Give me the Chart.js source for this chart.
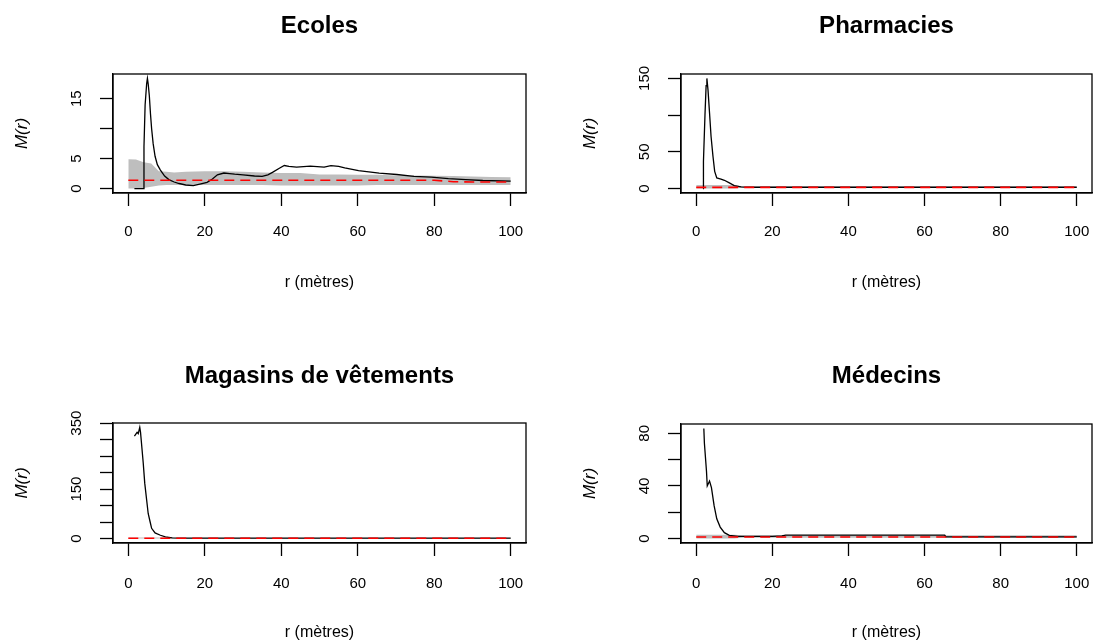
<!DOCTYPE html>
<html>
<head>
<meta charset="utf-8">
<script src="https://cdn.jsdelivr.net/npm/chart.js@4/dist/chart.umd.min.js"></script>
<style>
  body { margin: 0; background: #fff; width: 1096px; height: 643px; position: relative; overflow: hidden; }
  canvas { position: absolute; }
</style>
</head>
<body>
<canvas id="ecoles" width="548" height="321" style="left:0;top:0"></canvas>
<canvas id="pharmacies" width="548" height="321" style="left:548px;top:0"></canvas>
<canvas id="magasins" width="548" height="322" style="left:0;top:321px"></canvas>
<canvas id="medecins" width="548" height="322" style="left:548px;top:321px"></canvas>
<script>
const xTicks = [0, 20, 40, 60, 80, 100];

// Ecoles
const ecolesR = [1.6, 3.9, 4.1, 4.4, 4.8, 5.0, 5.2, 5.5, 5.8, 6.1, 6.5, 7.0, 7.6, 8.4, 9.5, 10.6, 12, 13.3, 15, 17, 19, 20.6, 22, 23.3, 25, 26.5, 27.8, 30, 33, 35, 36.5, 37.7, 39.5, 40.8, 42, 44, 47.6, 51.2, 53, 55, 56.6, 60.2, 65.6, 70.2, 74.7, 79.2, 83.7, 88.2, 92.7, 100];
const ecolesM = [0, 0, 7, 14, 17.5, 18.4, 17.5, 15.5, 12.5, 10, 7.5, 5.4, 4.0, 3.1, 2.1, 1.5, 1.1, 0.85, 0.6, 0.5, 0.8, 1.05, 1.6, 2.3, 2.6, 2.5, 2.4, 2.3, 2.1, 2.05, 2.3, 2.7, 3.4, 3.85, 3.7, 3.6, 3.75, 3.6, 3.85, 3.7, 3.45, 3.0, 2.6, 2.35, 2.05, 1.9, 1.65, 1.5, 1.35, 1.25];
const ecolesEnvR = [0, 2, 4, 6, 8, 10, 12, 15, 20, 25, 30, 35, 40, 45, 50, 55, 60, 65, 70, 75, 80, 85, 90, 95, 100];
const ecolesHi = [4.9, 4.85, 4.4, 4.2, 2.9, 2.8, 2.7, 2.8, 2.9, 2.9, 2.8, 2.7, 2.6, 2.6, 2.35, 2.35, 2.3, 2.3, 2.2, 2.2, 2.15, 2.1, 2.0, 1.95, 1.9];
const ecolesLo = [0, 0, 0.1, 0.3, 0.5, 0.6, 0.6, 0.6, 0.6, 0.6, 0.6, 0.6, 0.5, 0.5, 0.5, 0.5, 0.5, 0.6, 0.6, 0.6, 0.6, 0.6, 0.6, 0.6, 0.6];
const ecolesTheo = [1.4, 1.4, 1.4, 1.4, 1.4, 1.4, 1.4, 1.4, 1.4, 1.4, 1.4, 1.4, 1.4, 1.4, 1.4, 1.4, 1.4, 1.4, 1.4, 1.4, 1.4, 1.15, 1.1, 1.1, 1.1];
const ecolesYTicks = [0, 5, 10, 15];
const ecolesYLabels = ["0", "5", "", "15"];

// Pharmacies
const pharmaR = [1.8, 1.9, 2.3, 2.6, 2.8, 3.1, 3.5, 3.9, 4.4, 4.85, 5.4, 6.5, 7.4, 8.7, 10, 11.8, 14, 30, 50, 70, 100];
const pharmaM = [0, 37, 100, 140, 150, 134, 103, 71, 44, 23.5, 14.5, 13, 11.3, 7.7, 4.1, 2.3, 1.8, 1.8, 1.8, 1.8, 1.8];
const pharmaEnvR = [0, 5, 10, 12, 20, 40, 60, 80, 100];
const pharmaHi = [5, 5, 5, 3, 3, 3, 3, 3, 3];
const pharmaLo = [0, 0, 0, 1, 1, 1, 1, 1, 1];
const pharmaTheo = [1.6, 1.6, 1.6, 1.6, 1.6, 1.6, 1.6, 1.6, 1.6];
const pharmaYTicks = [0, 50, 100, 150];
const pharmaYLabels = ["0", "50", "", "150"];

// Magasins de vêtements
const magasinsR = [1.6, 2.3, 2.6, 3.0, 3.2, 3.4, 3.9, 4.3, 4.8, 5.2, 5.7, 6.1, 7.0, 8.4, 9.7, 11.5, 14, 30, 50, 70, 100];
const magasinsM = [311, 322, 318, 337, 322, 296, 230, 168, 117, 76, 51, 31, 17, 10, 5, 2, 1.5, 1.5, 1.5, 1.5, 1.5];
const magasinsEnvR = [0, 5, 10, 12, 20, 40, 60, 80, 100];
const magasinsHi = [3, 3, 3, 2, 2, 2, 2, 2, 2];
const magasinsLo = [0, 0, 0, 0.5, 0.5, 0.5, 0.5, 0.5, 0.5];
const magasinsTheo = [1, 1, 1, 1, 1, 1, 1, 1, 1];
const magasinsYTicks = [0, 50, 100, 150, 200, 250, 300, 350];
const magasinsYLabels = ["0", "", "", "150", "", "", "", "350"];

// Médecins
const medecinsR = [2.0, 2.15, 2.7, 2.9, 3.5, 4.0, 4.7, 5.4, 6.3, 7.4, 8.7, 11, 20, 22.5, 23.5, 40, 60, 65.3, 65.6, 80, 100];
const medecinsM = [83.75, 72.5, 51, 40, 43.75, 38.75, 25, 15, 8.75, 4.5, 2.5, 1.75, 1.75, 2.0, 2.6, 2.6, 2.6, 2.6, 1.3, 1.25, 1.25];
const medecinsEnvR = [0, 5, 10, 12, 20, 40, 60, 80, 100];
const medecinsHi = [3, 3, 3, 2.5, 2.5, 2.5, 2.5, 2.5, 2.5];
const medecinsLo = [0, 0, 0, 0.7, 0.7, 0.7, 0.7, 0.7, 0.7];
const medecinsTheo = [1.25, 1.25, 1.25, 1.25, 1.25, 1.25, 1.25, 1.25, 1.25];
const medecinsYTicks = [0, 20, 40, 60, 80];
const medecinsYLabels = ["0", "", "40", "", "80"];

const FONT = "'Liberation Sans', Arial, sans-serif";
const TICK_SIZE = 15;
const LAB_SIZE = 16;
const TITLE_SIZE = 24;

// where each panel's box and texts sit on the page
const panels = [
  { id: "ecoles", title: "Ecoles", r: ecolesR, m: ecolesM, envR: ecolesEnvR, hi: ecolesHi, lo: ecolesLo, theo: ecolesTheo, yTicks: ecolesYTicks, yLabels: ecolesYLabels,
    canvas: { l: 0, t: 0, w: 548, h: 321 }, area: { l: 113, r: 526, t: 74, b: 193 }, titleY: 26, tickPad: 17, xlabY: 283, ylabX: 22 },
  { id: "pharmacies", title: "Pharmacies", r: pharmaR, m: pharmaM, envR: pharmaEnvR, hi: pharmaHi, lo: pharmaLo, theo: pharmaTheo, yTicks: pharmaYTicks, yLabels: pharmaYLabels,
    canvas: { l: 548, t: 0, w: 548, h: 321 }, area: { l: 681, r: 1092, t: 74, b: 193 }, titleY: 26, tickPad: 17, xlabY: 283, ylabX: 590 },
  { id: "magasins", title: "Magasins de vêtements", r: magasinsR, m: magasinsM, envR: magasinsEnvR, hi: magasinsHi, lo: magasinsLo, theo: magasinsTheo, yTicks: magasinsYTicks, yLabels: magasinsYLabels,
    canvas: { l: 0, t: 321, w: 548, h: 322 }, area: { l: 113, r: 526, t: 423, b: 543 }, titleY: 376, tickPad: 19, xlabY: 633, ylabX: 22 },
  { id: "medecins", title: "Médecins", r: medecinsR, m: medecinsM, envR: medecinsEnvR, hi: medecinsHi, lo: medecinsLo, theo: medecinsTheo, yTicks: medecinsYTicks, yLabels: medecinsYLabels,
    canvas: { l: 548, t: 321, w: 548, h: 322 }, area: { l: 681, r: 1092, t: 424, b: 543 }, titleY: 376, tickPad: 19, xlabY: 633, ylabX: 590 }
];

function pts(xs, ys) {
  return xs.map((x, i) => ({ x: x, y: ys[i] }));
}

// box round the plot region, like R's box()
const frame = {
  id: "frame",
  afterDraw(chart) {
    const { ctx, chartArea: a } = chart;
    ctx.save();
    ctx.strokeStyle = "#000";
    ctx.lineWidth = 1.3;
    ctx.strokeRect(a.left, a.top, a.right - a.left, a.bottom - a.top);
    ctx.restore();
  }
};

// y tick labels turned parallel to the axis
const rLabels = {
  id: "rLabels",
  afterDraw(chart, args, opts) {
    const { ctx, chartArea: a } = chart;
    const y = chart.scales.y;
    ctx.save();
    ctx.fillStyle = "#000";
    ctx.font = TICK_SIZE + "px " + FONT;
    ctx.textAlign = "center";
    ctx.textBaseline = "middle";
    opts.ticks.forEach((v, i) => {
      if (!opts.labels[i]) return;
      ctx.save();
      ctx.translate(a.left - 36, y.getPixelForValue(v));
      ctx.rotate(-Math.PI / 2);
      ctx.fillText(opts.labels[i], 0, 0);
      ctx.restore();
    });
    ctx.restore();
  }
};

panels.forEach(p => {
  const c = p.canvas, a = p.area;
  const all = [...p.m, ...p.hi, ...p.lo, ...p.theo];
  const ymin = Math.min(...all), ymax = Math.max(...all);
  const ext = (ymax - ymin) * 0.04;

  const titleLh = TITLE_SIZE * 1.2, labLh = LAB_SIZE * 1.2;
  const titleTop = p.titleY - c.t - titleLh / 2;
  const titleBottom = a.t - c.t - titleLh - titleTop;
  const xH = c.t + c.h - a.b;
  const yW = a.l - c.l;

  const axisGrid = { drawOnChartArea: false, drawTicks: true, tickLength: 13, color: "#000", tickWidth: 1.3 };
  const axisBorder = { display: true, color: "#000", width: 1.3 };

  new Chart(document.getElementById(p.id), {
    type: "line",
    data: {
      datasets: [
        { data: pts(p.envR, p.hi), borderWidth: 0, pointRadius: 0, fill: "+1", backgroundColor: "#bebebe", order: 3 },
        { data: pts(p.envR, p.lo), borderWidth: 0, pointRadius: 0, fill: false, order: 3 },
        { data: pts(p.r, p.m), borderColor: "#000", borderWidth: 1.3, pointRadius: 0, fill: false, order: 2 },
        { data: pts(p.envR, p.theo), borderColor: "#ff0000", borderWidth: 1.6, borderDash: [10, 6], pointRadius: 0, fill: false, order: 1 }
      ]
    },
    options: {
      responsive: false,
      animation: false,
      devicePixelRatio: 1,
      layout: { padding: { left: 0, top: 0, bottom: 0, right: c.l + c.w - a.r } },
      plugins: {
        legend: { display: false },
        tooltip: { enabled: false },
        title: {
          display: true, text: p.title, fullSize: false, color: "#000",
          font: { family: FONT, size: TITLE_SIZE, weight: "bold" },
          padding: { top: titleTop, bottom: titleBottom }
        },
        rLabels: { ticks: p.yTicks, labels: p.yLabels }
      },
      scales: {
        x: {
          type: "linear", min: -4, max: 104,
          afterBuildTicks: s => { s.ticks = xTicks.map(v => ({ value: v })); },
          afterFit: s => { s.height = xH; s.paddingLeft = 0; s.paddingRight = 0; },
          grid: axisGrid, border: axisBorder,
          ticks: { color: "#000", font: { family: FONT, size: TICK_SIZE }, padding: p.tickPad, maxRotation: 0, autoSkip: false },
          title: { display: true, text: "r (mètres)", color: "#000", font: { family: FONT, size: LAB_SIZE },
                   padding: { top: 0, bottom: c.t + c.h - p.xlabY - labLh / 2 } }
        },
        y: {
          type: "linear", min: ymin - ext, max: ymax + ext,
          afterBuildTicks: s => { s.ticks = p.yTicks.map(v => ({ value: v })); },
          afterFit: s => { s.width = yW; s.paddingTop = 0; s.paddingBottom = 0; },
          grid: axisGrid, border: axisBorder,
          ticks: { display: false },
          title: { display: true, text: "M(r)", color: "#000", font: { family: FONT, size: LAB_SIZE + 1, style: "italic" },
                   padding: { top: p.ylabX - c.l - (LAB_SIZE + 1) * 0.6, bottom: 0 } }
        }
      }
    },
    plugins: [frame, rLabels]
  });
});
</script>
</body>
</html>
